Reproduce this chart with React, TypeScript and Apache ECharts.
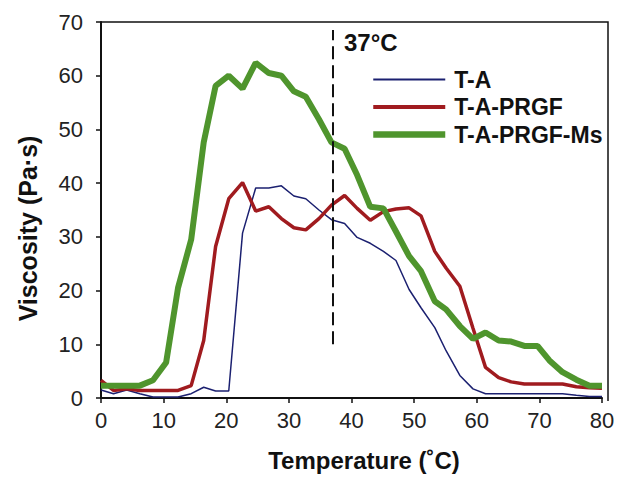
import React, { useEffect, useRef } from "react";
import * as echarts from "echarts";

const temperatures = [0, 2.0, 4.1, 6.2, 8.3, 10.4, 12.3, 14.4, 16.4, 18.3, 20.4, 22.6, 24.7, 26.8, 28.8, 30.8, 32.7, 34.8, 36.8, 38.9, 40.9, 43.0, 45.1, 47.1, 49.2, 51.1, 53.3, 55.1, 57.3, 59.4, 61.4, 63.5, 65.5, 67.6, 69.7, 71.6, 73.7, 75.9, 78.0, 80.0];

const seriesNames = ["T-A", "T-A-PRGF", "T-A-PRGF-Ms"];

const viscTA = [1.5, 0.8, 1.5, 0.8, 0.2, 0.2, 0.2, 0.8, 2.0, 1.3, 1.3, 30.7, 39.1, 39.1, 39.5, 37.6, 37.1, 35.0, 33.2, 32.5, 29.9, 28.8, 27.3, 25.6, 20.2, 16.8, 13.1, 8.8, 4.2, 1.7, 0.8, 0.8, 0.8, 0.8, 0.8, 0.8, 0.8, 0.5, 0.3, 0.3];

const viscPRGF = [3.3, 1.4, 1.7, 1.4, 1.4, 1.4, 1.4, 2.3, 10.7, 28.2, 37.1, 40.1, 34.8, 35.6, 33.4, 31.7, 31.3, 33.4, 35.9, 37.7, 35.3, 33.1, 34.7, 35.2, 35.4, 33.9, 27.3, 24.2, 20.8, 13.0, 5.7, 3.8, 3.0, 2.6, 2.6, 2.6, 2.6, 2.1, 1.9, 1.8];

const viscMs = [2.3, 2.3, 2.3, 2.3, 3.3, 6.6, 20.5, 29.5, 47.6, 58.1, 60.0, 57.6, 62.4, 60.5, 60.0, 57.1, 56.1, 51.9, 47.6, 46.4, 41.5, 35.6, 35.3, 31.0, 26.4, 23.6, 18.0, 16.5, 13.4, 11.0, 12.2, 10.7, 10.5, 9.7, 9.7, 7.0, 4.8, 3.4, 2.3, 2.3];

const xTicks = [0, 80, 10];
const yTicks = [0, 70, 10];
const markerTemp = 37;
const markerRange = [10, 68.5];

const pair = (ys: number[]) => temperatures.map((t, i) => [t, ys[i]]);

export default function App() {
  const ref = useRef<HTMLDivElement>(null);
  useEffect(() => {
    if (!ref.current) return;
    const chart = echarts.init(ref.current, undefined, { renderer: "svg" });
    const font = "'Liberation Sans', Arial, sans-serif";
    const colors = ["#1b2070", "#a01b1f", "#4f952d"];
    const legendWidths = [2, 4, 6.5];
    chart.setOption({
      animation: false,
      backgroundColor: "#ffffff",
      textStyle: { fontFamily: font },
      grid: { left: 101, right: 17, top: 22, bottom: 76, containLabel: false },
      graphic: [
        {
          type: "polyline",
          shape: { points: [[101, 22], [608, 22], [608, 401]] },
          style: { stroke: "#111", lineWidth: 1.5, fill: "none" },
          z: 10,
        },
        {
          type: "text",
          left: 344,
          top: 30,
          style: { text: "37°C", font: `bold 24px ${font}`, fill: "#111" },
        },
      ],
      legend: {
        orient: "vertical",
        left: 370,
        top: 68,
        padding: 0,
        itemWidth: 72,
        itemHeight: 24,
        itemGap: 4.5,
        itemStyle: { opacity: 0 },
        textStyle: { fontSize: 23, fontWeight: "bold", color: "#111", fontFamily: font, padding: [0, 0, 0, 4] },
        data: seriesNames.map((n, i) => ({
          name: n,
          itemStyle: { opacity: 0 },
          lineStyle: { width: legendWidths[i], color: colors[i] },
        })),
      },
      xAxis: {
        type: "value",
        min: xTicks[0],
        max: xTicks[1],
        interval: xTicks[2],
        name: "Temperature (˚C)",
        nameLocation: "middle",
        nameGap: 50,
        nameTextStyle: { fontSize: 24, fontWeight: "bold", color: "#111", padding: [0, 0, 0, 25] },
        axisLine: { lineStyle: { color: "#111", width: 2 } },
        axisTick: { show: true, length: 5, lineStyle: { color: "#111", width: 1.5 } },
        axisLabel: { fontSize: 22, color: "#222", margin: 11 },
        splitLine: { show: false },
      },
      yAxis: {
        type: "value",
        min: yTicks[0],
        max: yTicks[1],
        interval: yTicks[2],
        name: "Viscosity (Pa·s)",
        nameLocation: "middle",
        nameGap: 61,
        nameRotate: 90,
        nameTextStyle: { fontSize: 25, fontWeight: "bold", color: "#111", padding: [0, 37, 0, 0] },
        axisLine: { show: true, lineStyle: { color: "#111", width: 2 } },
        axisTick: { show: true, length: 5, lineStyle: { color: "#111", width: 1.5 } },
        axisLabel: { fontSize: 22, color: "#222", margin: 18 },
        splitLine: { show: false },
      },
      series: [
        {
          name: seriesNames[0],
          type: "line",
          data: pair(viscTA),
          symbol: "none",
          lineStyle: { color: colors[0], width: 1.5 },
          itemStyle: { color: colors[0] },
          z: 2,
          markLine: {
            silent: true,
            symbol: "none",
            label: { show: false },
            lineStyle: { color: "#111", width: 2, type: [13, 6] },
            data: [[{ coord: [markerTemp, markerRange[0]] }, { coord: [markerTemp, markerRange[1]] }]],
          },
        },
        {
          name: seriesNames[1],
          type: "line",
          data: pair(viscPRGF),
          symbol: "none",
          lineStyle: { color: colors[1], width: 3.5 },
          itemStyle: { color: colors[1] },
          z: 3,
        },
        {
          name: seriesNames[2],
          type: "line",
          data: pair(viscMs),
          symbol: "none",
          lineStyle: { color: colors[2], width: 6 },
          itemStyle: { color: colors[2] },
          z: 4,
        },
      ],
    });
    return () => chart.dispose();
  }, []);
  return <div ref={ref} style={{ width: 619, height: 477, position: "absolute", left: 0, top: 0 }} />;
}
